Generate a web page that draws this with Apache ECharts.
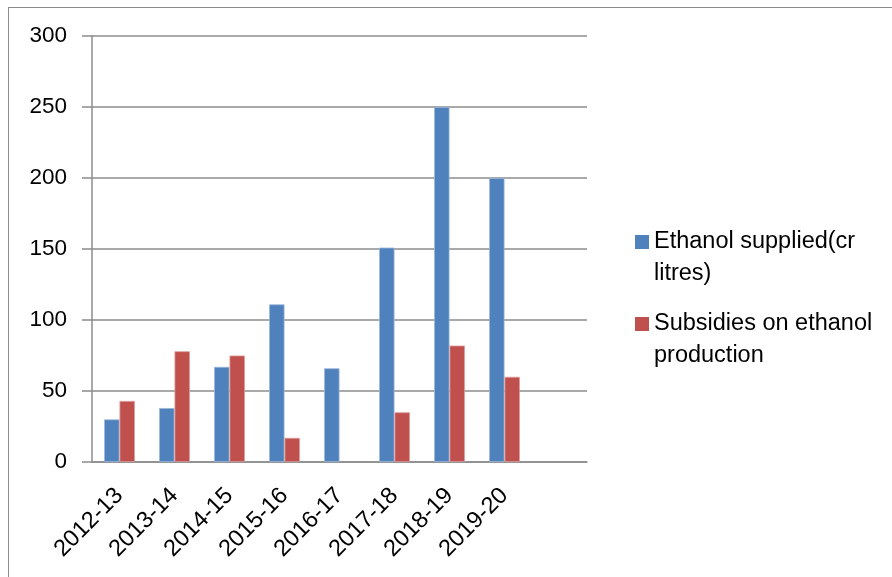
<!DOCTYPE html>
<html>
<head>
<meta charset="utf-8">
<script src="https://cdn.jsdelivr.net/npm/echarts@6/dist/echarts.min.js"></script>
<style>
  html, body { margin: 0; padding: 0; background: #fff; }
  #chart { position: absolute; left: 0; top: 0; width: 892px; height: 577px; }
  #frame {
    position: absolute; left: 8px; top: 7px; right: -4px; bottom: -4px;
    border-left: 1.5px solid #8c8c8c; border-top: 1.5px solid #8c8c8c;
  }
</style>
</head>
<body>
<div id="frame"></div>
<div id="chart"></div>
<script>
const years = ["2012-13", "2013-14", "2014-15", "2015-16", "2016-17", "2017-18", "2018-19", "2019-20", ""];
const ethanolSupplied = [30, 38, 67, 111, 66, 151, 250, 200];
const subsidies = [43, 78, 75, 17, null, 35, 82, 60];
const yTicks = { min: 0, max: 300, step: 50 };

const nameSupplied = "Ethanol supplied(cr\nlitres)";
const nameSubsidy = "Subsidies on ethanol\nproduction";

const font = "Liberation Sans";

const legendBase = {
  orient: "vertical",
  left: 630,
  itemWidth: 14,
  itemHeight: 14,
  icon: "rect",
  itemStyle: { borderWidth: 0 },
  // leading blank line keeps the marker beside the first text line
  formatter: n => "\n" + n,
  textStyle: { fontFamily: font, fontSize: 23.5, lineHeight: 32, color: "#000" }
};

const option = {
  animation: false,
  color: ["#4F81BD", "#C0504D"],
  legend: [
    Object.assign({}, legendBase, { data: [nameSupplied], top: 189 }),
    Object.assign({}, legendBase, { data: [nameSubsidy], top: 271 })
  ],
  grid: { left: 92, right: 305, top: 36, bottom: 115 },
  xAxis: {
    type: "category",
    data: years,
    axisLine: { lineStyle: { color: "#8c8c8c", width: 1.5 } },
    axisTick: { length: 8, lineStyle: { color: "#8c8c8c", width: 1.5 } },
    axisLabel: {
      rotate: 45,
      interval: 0,
      margin: 30,
      color: "#000",
      fontFamily: font,
      fontSize: 23.5
    }
  },
  yAxis: {
    type: "value",
    min: yTicks.min,
    max: yTicks.max,
    interval: yTicks.step,
    axisLine: { show: true, lineStyle: { color: "#8c8c8c", width: 1.5 } },
    axisTick: { show: true, length: 10, lineStyle: { color: "#8c8c8c", width: 1.5 } },
    axisLabel: { margin: 25, color: "#000", fontFamily: font, fontSize: 22.5 },
    splitLine: { lineStyle: { color: "#8c8c8c", width: 1.5 } }
  },
  series: [
    {
      name: nameSupplied,
      type: "bar",
      data: ethanolSupplied,
      barGap: "0%",
      barCategoryGap: "44%",
      itemStyle: { borderColor: "#9db7dc", borderWidth: 0.8 }
    },
    {
      name: nameSubsidy,
      type: "bar",
      data: subsidies,
      itemStyle: { borderColor: "#dc9d9b", borderWidth: 0.8 }
    }
  ]
};

const myChart = echarts.init(document.getElementById("chart"));
myChart.setOption(option);
</script>
</body>
</html>
